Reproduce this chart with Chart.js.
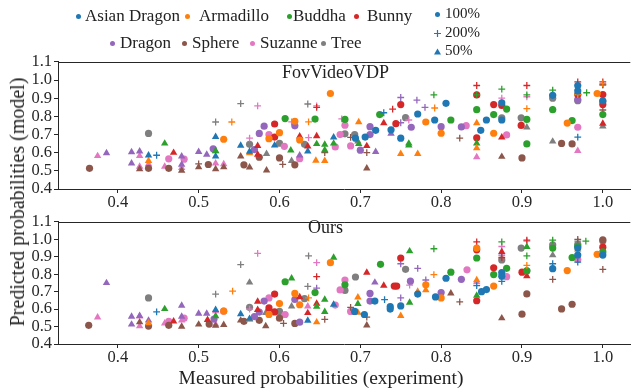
<!DOCTYPE html>
<html><head><meta charset="utf-8">
<script src="https://cdn.jsdelivr.net/npm/chart.js@4.4.1/dist/chart.umd.min.js"></script>
<style>
body{margin:0;background:#fff;}
#wrap{position:relative;width:635px;height:392px;overflow:hidden;font-family:'Liberation Serif','Times New Roman',serif;color:#222;background:#fff;}
.abs{position:absolute;white-space:nowrap;line-height:1;}
canvas{position:absolute;left:0;}
.dot{position:absolute;width:5px;height:5px;border-radius:50%;}
</style></head><body><div id="wrap">
<canvas id="c1" width="635" height="160" style="top:50px"></canvas>
<canvas id="c2" width="635" height="182" style="top:210px"></canvas>
</div>
<script>
// ---------- data ----------
const modelNames = ['Asian Dragon','Armadillo','Buddha','Bunny','Dragon','Sphere','Suzanne','Tree'];
const modelColors = ['#1f77b4','#ff7f0e','#2ca02c','#d62728','#9467bd','#8c564b','#e377c2','#7f7f7f'];
const markerNames = ['100%','200%','50%']; // c = 100%, p = 200%, t = 50%
const xTicks = [0.4,0.5,0.6,0.7,0.8,0.9,1.0];
const yTicks = [0.4,0.5,0.6,0.7,0.8,0.9,1.0,1.1];
const panelTitles = ['FovVideoVDP','Ours'];

// FovVideoVDP panel: [measured, predicted, marker]
const fovAsianDragon = [[0.438,0.586,'t'],[0.448,0.586,'p'],[0.521,0.687,'t'],[0.521,0.58,'t'],[0.552,0.639,'t'],[0.563,0.606,'t'],[0.594,0.641,'t'],[0.635,0.608,'t'],[0.667,0.685,'t'],[0.694,0.68,'c'],[0.706,0.686,'c'],[0.719,0.723,'c'],[0.729,0.82,'p'],[0.738,0.726,'c'],[0.75,0.68,'c'],[0.771,0.813,'c'],[0.792,0.78,'c'],[0.806,0.872,'c'],[0.849,0.723,'c'],[0.856,0.78,'c'],[0.875,0.875,'c'],[0.875,0.78,'c'],[0.938,0.916,'c'],[0.969,0.97,'c'],[0.969,0.94,'c'],[0.969,0.686,'p'],[1.0,0.886,'c']];
const fovArmadillo = [[0.438,0.555,'t'],[0.531,0.674,'c'],[0.541,0.769,'p'],[0.563,0.598,'t'],[0.587,0.677,'c'],[0.6,0.71,'c'],[0.619,0.773,'c'],[0.625,0.67,'c'],[0.636,0.77,'p'],[0.645,0.557,'t'],[0.656,0.555,'t'],[0.663,0.926,'c'],[0.698,0.769,'t'],[0.75,0.594,'t'],[0.771,0.594,'t'],[0.781,0.769,'c'],[0.792,0.846,'p'],[0.8,0.707,'c'],[0.844,0.763,'t'],[0.844,0.625,'t'],[0.865,0.707,'c'],[0.906,0.843,'p'],[0.956,0.763,'c'],[0.969,0.92,'p'],[0.993,0.926,'c'],[1.0,0.98,'p']];
const fovBuddha = [[0.458,0.651,'t'],[0.521,0.61,'t'],[0.607,0.788,'c'],[0.614,0.613,'t'],[0.644,0.785,'c'],[0.646,0.648,'t'],[0.656,0.645,'t'],[0.656,0.614,'t'],[0.667,0.651,'t'],[0.681,0.783,'c'],[0.698,0.648,'t'],[0.724,0.81,'c'],[0.76,0.651,'t'],[0.76,0.64,'t'],[0.791,0.918,'p'],[0.812,0.78,'c'],[0.844,0.918,'p'],[0.844,0.837,'c'],[0.844,0.652,'t'],[0.865,0.81,'c'],[0.875,0.95,'p'],[0.881,0.84,'c'],[0.906,0.918,'p'],[0.906,0.783,'c'],[0.906,0.648,'c'],[0.938,0.945,'p'],[0.938,0.837,'c'],[0.962,0.777,'c'],[0.969,0.92,'p'],[0.98,0.93,'p'],[1.0,0.81,'c']];
const fovBunny = [[0.469,0.6,'t'],[0.573,0.59,'t'],[0.573,0.638,'t'],[0.594,0.758,'c'],[0.594,0.686,'c'],[0.625,0.69,'t'],[0.635,0.635,'t'],[0.646,0.85,'p'],[0.646,0.692,'t'],[0.708,0.637,'t'],[0.729,0.763,'t'],[0.74,0.84,'p'],[0.744,0.76,'c'],[0.75,0.865,'c'],[0.844,0.97,'p'],[0.844,0.918,'c'],[0.844,0.682,'c'],[0.865,0.865,'c'],[0.875,0.86,'c'],[0.875,0.685,'t'],[0.906,0.97,'p'],[0.899,0.75,'c'],[0.938,0.837,'p'],[0.969,0.99,'p'],[0.969,0.92,'c'],[1.0,0.99,'p'],[1.0,0.92,'c'],[1.0,0.865,'c'],[1.0,0.76,'t']];
const fovDragon = [[0.386,0.598,'t'],[0.417,0.603,'t'],[0.417,0.541,'t'],[0.427,0.608,'t'],[0.479,0.58,'t'],[0.479,0.535,'t'],[0.5,0.605,'t'],[0.51,0.59,'t'],[0.518,0.621,'c'],[0.569,0.617,'c'],[0.575,0.706,'c'],[0.581,0.746,'c'],[0.619,0.748,'c'],[0.625,0.585,'t'],[0.7,0.614,'c'],[0.712,0.743,'c'],[0.712,0.70,'c'],[0.719,0.605,'t'],[0.738,0.705,'t'],[0.75,0.904,'p'],[0.75,0.765,'p'],[0.763,0.74,'c'],[0.77,0.89,'p'],[0.78,0.85,'p'],[0.8,0.743,'c'],[0.825,0.742,'c'],[0.969,0.893,'c']];
const fovSphere = [[0.365,0.514,'c'],[0.427,0.51,'t'],[0.438,0.514,'c'],[0.463,0.514,'c'],[0.479,0.502,'t'],[0.5,0.52,'t'],[0.5,0.538,'p'],[0.512,0.535,'c'],[0.521,0.51,'t'],[0.531,0.52,'t'],[0.552,0.58,'t'],[0.556,0.533,'c'],[0.563,0.519,'t'],[0.575,0.575,'c'],[0.584,0.503,'t'],[0.6,0.571,'c'],[0.604,0.536,'p'],[0.619,0.533,'c'],[0.656,0.6,'p'],[0.688,0.684,'p'],[0.708,0.6,'p'],[0.708,0.514,'t'],[0.823,0.68,'p'],[0.875,0.578,'t'],[0.9,0.571,'c'],[0.949,0.651,'c'],[0.962,0.648,'c'],[1.0,0.835,'p'],[1.0,0.975,'p']];
const fovSuzanne = [[0.375,0.582,'t'],[0.427,0.582,'t'],[0.427,0.523,'t'],[0.438,0.537,'t'],[0.458,0.523,'t'],[0.463,0.566,'c'],[0.479,0.516,'t'],[0.482,0.564,'c'],[0.521,0.608,'t'],[0.521,0.541,'t'],[0.531,0.537,'t'],[0.563,0.68,'p'],[0.573,0.858,'p'],[0.587,0.70,'c'],[0.606,0.635,'c'],[0.615,0.77,'p'],[0.625,0.567,'c'],[0.636,0.683,'p'],[0.646,0.858,'p'],[0.669,0.632,'c'],[0.675,0.70,'c'],[0.677,0.786,'p'],[0.681,0.751,'c'],[0.688,0.637,'c'],[0.76,0.78,'p'],[0.831,0.749,'c'],[0.844,0.576,'t'],[0.875,0.90,'p'],[0.881,0.698,'c'],[0.906,0.908,'p'],[0.969,0.74,'c'],[0.969,0.61,'t']];
const fovTree = [[0.438,0.706,'c'],[0.521,0.769,'p'],[0.552,0.87,'p'],[0.563,0.646,'c'],[0.584,0.594,'t'],[0.6,0.652,'c'],[0.615,0.555,'t'],[0.631,0.646,'c'],[0.635,0.868,'p'],[0.681,0.704,'c'],[0.693,0.70,'c'],[0.697,0.662,'t'],[0.756,0.793,'c'],[0.875,0.792,'c'],[0.899,0.792,'c'],[0.906,0.74,'t'],[0.938,0.90,'c'],[0.938,0.92,'p'],[0.938,0.662,'t'],[0.969,0.886,'c'],[1.0,0.882,'c'],[1.0,0.745,'t'],[1.0,0.972,'p']];

// Ours panel
const oursAsianDragon = [[0.448,0.584,'p'],[0.521,0.596,'t'],[0.552,0.571,'t'],[0.563,0.545,'t'],[0.635,0.534,'t'],[0.667,0.626,'t'],[0.693,0.587,'c'],[0.705,0.569,'c'],[0.718,0.646,'c'],[0.73,0.654,'p'],[0.737,0.614,'c'],[0.737,0.60,'c'],[0.75,0.618,'c'],[0.771,0.686,'c'],[0.793,0.67,'c'],[0.806,0.777,'c'],[0.844,0.735,'p'],[0.85,0.70,'c'],[0.856,0.712,'c'],[0.875,0.81,'c'],[0.875,0.789,'c'],[0.875,0.759,'p'],[0.938,0.86,'p'],[0.938,0.832,'c'],[0.969,0.95,'c'],[0.969,0.91,'c'],[0.969,0.869,'p'],[1.0,0.91,'c']];
const oursArmadillo = [[0.438,0.52,'t'],[0.531,0.588,'c'],[0.542,0.703,'p'],[0.563,0.54,'t'],[0.587,0.569,'c'],[0.6,0.632,'c'],[0.619,0.69,'c'],[0.625,0.625,'c'],[0.636,0.664,'p'],[0.646,0.525,'t'],[0.663,0.866,'c'],[0.697,0.668,'t'],[0.697,0.58,'t'],[0.75,0.561,'t'],[0.771,0.70,'t'],[0.781,0.709,'t'],[0.781,0.739,'c'],[0.791,0.798,'p'],[0.8,0.664,'c'],[0.844,0.95,'c'],[0.844,0.766,'t'],[0.865,0.732,'c'],[0.906,0.851,'p'],[0.956,0.821,'c'],[0.969,0.932,'p'],[0.993,0.914,'c']];
const oursBuddha = [[0.458,0.601,'t'],[0.521,0.56,'t'],[0.607,0.757,'c'],[0.615,0.777,'t'],[0.644,0.695,'c'],[0.646,0.614,'t'],[0.656,0.655,'t'],[0.656,0.585,'t'],[0.667,0.896,'t'],[0.681,0.739,'c'],[0.697,0.63,'t'],[0.725,0.857,'c'],[0.761,0.932,'t'],[0.761,0.637,'t'],[0.791,0.946,'p'],[0.812,0.812,'c'],[0.844,0.893,'c'],[0.844,0.678,'t'],[0.865,0.798,'c'],[0.875,0.985,'p'],[0.881,0.834,'c'],[0.906,0.957,'t'],[0.906,0.905,'p'],[0.906,0.82,'c'],[0.938,0.995,'p'],[0.938,0.95,'c'],[0.962,0.896,'c'],[0.969,0.96,'c'],[0.979,0.99,'p'],[1.0,0.928,'c']];
const oursBunny = [[0.469,0.53,'t'],[0.511,0.539,'t'],[0.573,0.643,'t'],[0.573,0.596,'t'],[0.587,0.607,'c'],[0.594,0.686,'c'],[0.594,0.584,'c'],[0.625,0.669,'t'],[0.635,0.578,'t'],[0.646,0.786,'p'],[0.646,0.632,'t'],[0.708,0.81,'t'],[0.729,0.735,'t'],[0.742,0.732,'c'],[0.745,0.732,'c'],[0.75,0.893,'c'],[0.844,0.985,'p'],[0.844,0.94,'c'],[0.844,0.648,'c'],[0.865,0.837,'c'],[0.875,0.928,'t'],[0.875,0.896,'p'],[0.9,0.812,'c'],[0.906,0.995,'p'],[0.906,0.789,'t'],[1.0,0.955,'c']];
const oursDragon = [[0.386,0.75,'t'],[0.417,0.557,'t'],[0.417,0.512,'t'],[0.427,0.562,'t'],[0.438,0.535,'t'],[0.479,0.62,'t'],[0.479,0.557,'t'],[0.5,0.575,'t'],[0.51,0.575,'t'],[0.519,0.543,'c'],[0.569,0.557,'c'],[0.575,0.583,'c'],[0.581,0.646,'c'],[0.619,0.655,'c'],[0.625,0.525,'c'],[0.646,0.72,'p'],[0.712,0.69,'c'],[0.712,0.646,'c'],[0.718,0.753,'t'],[0.75,0.86,'p'],[0.75,0.664,'p'],[0.762,0.76,'c'],[0.771,0.834,'p'],[0.781,0.767,'p'],[0.8,0.695,'c'],[0.825,0.771,'c'],[0.875,0.91,'p']];
const oursSphere = [[0.364,0.507,'c'],[0.427,0.525,'t'],[0.438,0.503,'c'],[0.463,0.507,'c'],[0.479,0.50,'t'],[0.5,0.512,'t'],[0.513,0.514,'c'],[0.521,0.505,'t'],[0.531,0.51,'t'],[0.552,0.535,'t'],[0.556,0.53,'c'],[0.575,0.536,'c'],[0.583,0.503,'t'],[0.6,0.548,'c'],[0.605,0.518,'p'],[0.619,0.518,'c'],[0.656,0.541,'p'],[0.688,0.61,'p'],[0.708,0.554,'p'],[0.708,0.507,'t'],[0.812,0.69,'t'],[0.823,0.642,'p'],[0.875,0.548,'t'],[0.9,0.571,'c'],[0.906,0.687,'c'],[0.938,0.771,'p'],[0.949,0.601,'c'],[0.962,0.628,'c'],[0.969,1.0,'p'],[1.0,0.997,'c'],[1.0,0.828,'p']];
const oursSuzanne = [[0.375,0.553,'t'],[0.427,0.558,'t'],[0.427,0.502,'t'],[0.458,0.518,'t'],[0.463,0.53,'c'],[0.479,0.535,'t'],[0.482,0.548,'c'],[0.521,0.588,'t'],[0.521,0.512,'t'],[0.531,0.588,'c'],[0.563,0.60,'p'],[0.573,0.92,'p'],[0.587,0.664,'c'],[0.607,0.569,'c'],[0.635,0.616,'t'],[0.646,0.866,'p'],[0.669,0.623,'c'],[0.675,0.71,'c'],[0.681,0.767,'c'],[0.688,0.587,'c'],[0.761,0.737,'p'],[0.832,0.825,'c'],[0.844,0.755,'t'],[0.875,0.959,'p'],[0.881,0.786,'c'],[0.906,0.99,'p'],[0.969,0.885,'c']];
const oursTree = [[0.438,0.664,'c'],[0.521,0.686,'p'],[0.552,0.855,'p'],[0.563,0.753,'t'],[0.563,0.61,'c'],[0.583,0.578,'t'],[0.6,0.587,'c'],[0.615,0.616,'t'],[0.631,0.66,'c'],[0.635,0.73,'p'],[0.636,0.905,'p'],[0.681,0.707,'c'],[0.694,0.784,'c'],[0.756,0.828,'c'],[0.875,0.882,'c'],[0.899,0.95,'c'],[0.906,0.82,'c'],[0.938,0.968,'c'],[0.938,0.909,'t'],[0.969,0.971,'c'],[0.969,0.99,'p'],[1.0,0.99,'c']];

const fovSeries = [fovAsianDragon,fovArmadillo,fovBuddha,fovBunny,fovDragon,fovSphere,fovSuzanne,fovTree];
const oursSeries = [oursAsianDragon,oursArmadillo,oursBuddha,oursBunny,oursDragon,oursSphere,oursSuzanne,oursTree];

// ---------- styling ----------
const FONT = "'Liberation Serif','Times New Roman',serif";
const INK = '#262626';
const styleOf = {c:'circle', p:'cross', t:'triangle'};
const radiusOf = {c:3.6, p:3.4, t:4.3};
const bwOf = {c:0, p:1.3, t:0};

function datasetsFor(series){
  return series.map((arr,i)=>({
    label: modelNames[i],
    data: arr.map(([x,y,m])=>({x,y,m})),
    backgroundColor: modelColors[i],
    borderColor: modelColors[i],
    pointStyle: c => styleOf[c.raw ? c.raw.m : 'c'],
    pointRadius: c => radiusOf[c.raw ? c.raw.m : 'c'],
    pointHoverRadius: c => radiusOf[c.raw ? c.raw.m : 'c'],
    pointBorderWidth: c => bwOf[c.raw ? c.raw.m : 'c'],
    showLine: false
  }));
}

const topLine = {
  id:'topLine',
  afterDraw(chart){
    const {ctx, chartArea:a} = chart;
    ctx.save(); ctx.strokeStyle = INK; ctx.lineWidth = 1;
    ctx.beginPath(); ctx.moveTo(a.left, Math.round(a.top)+0.5); ctx.lineTo(a.right, Math.round(a.top)+0.5); ctx.stroke();
    ctx.restore();
  }
};

function makeChart(id, series, padTop, xAxisH){
  return new Chart(document.getElementById(id), {
    type:'scatter',
    data:{datasets: datasetsFor(series)},
    options:{
      responsive:false, animation:false, events:[],
      layout:{padding:{top:padTop, left:0, right:0, bottom:0}},
      plugins:{legend:{display:false}, tooltip:{enabled:false}},
      scales:{
        x:{type:'linear', min:0.326, max:1.034,
           afterBuildTicks: ax => { ax.ticks = xTicks.map(v=>({value:v})); },
           afterFit: ax => { ax.height = xAxisH; },
           ticks:{callback:v=>v.toFixed(1), font:{family:FONT,size:16.5}, color:INK, padding:0, maxRotation:0, autoSkip:false},
           grid:{display:true, drawOnChartArea:false, drawTicks:true, tickLength:4, color:INK},
           border:{display:true, color:INK, width:1}},
        y:{type:'linear', min:0.4, max:1.1,
           afterBuildTicks: ax => { ax.ticks = yTicks.map(v=>({value:v})); },
           afterFit: ax => { ax.width = 58; },
           ticks:{callback:v=>v.toFixed(1), font:{family:FONT,size:16.5}, color:INK, padding:2, autoSkip:false},
           grid:{display:true, drawOnChartArea:false, drawTicks:true, tickLength:4, color:INK},
           border:{display:true, color:INK, width:1}}
      }
    },
    plugins:[topLine]
  });
}

makeChart('c1', fovSeries, 8, 21);
makeChart('c2', oursSeries, 4, 48);

// ---------- text: legend, titles ----------
const wrap = document.getElementById('wrap');
function addText(txt, left, top, size, extra){
  const d = document.createElement('div');
  d.className = 'abs'; d.textContent = txt;
  d.style.left = left+'px'; d.style.top = top+'px'; d.style.fontSize = size+'px';
  if (extra) Object.assign(d.style, extra);
  wrap.appendChild(d); return d;
}
const legendPos = [[78,85,16],[187,199,16],[289,293,16],[356,367,16],[112,120,43],[184,192,43],[252,260,43],[323,331,43]];
modelNames.forEach((n,i)=>{
  const [dx,tx,cy] = legendPos[i];
  const dot = document.createElement('div'); dot.className='dot';
  dot.style.left=(dx-2.5)+'px'; dot.style.top=(cy-2.5)+'px'; dot.style.background=modelColors[i];
  wrap.appendChild(dot);
  addText(n, tx, cy-9, 17);
});
// marker legend
const mkY = [14,33,51];
markerNames.forEach((n,i)=>{
  const cy = mkY[i];
  const el = document.createElement('div'); el.style.position='absolute';
  if (i===0){ Object.assign(el.style,{left:'435px',top:(cy-2.5)+'px',width:'5px',height:'5px',borderRadius:'50%',background:modelColors[0]}); }
  else if (i===1){ el.innerHTML='<svg width="7" height="7"><path d="M3.5 0V7M0 3.5H7" stroke="'+modelColors[0]+'" stroke-width="1.2"/></svg>'; Object.assign(el.style,{left:'434px',top:(cy-3.5)+'px',lineHeight:0}); }
  else { el.innerHTML='<svg width="7" height="7"><path d="M3.5 0.5L7 6.5H0Z" fill="'+modelColors[0]+'"/></svg>'; Object.assign(el.style,{left:'434px',top:(cy-3.5)+'px',lineHeight:0}); }
  wrap.appendChild(el);
  addText(n, 445, cy-8, 15);
});
addText(panelTitles[0], 282, 63, 18);
addText(panelTitles[1], 308, 218, 18);
addText('Measured probabilities (experiment)', 321, 368, 19.5, {transform:'translateX(-50%)'});
addText('Predicted probabilities (model)', 0, 0, 20, {left:'17px', top:'202px', transform:'translate(-50%,-50%) rotate(-90deg)'});
</script></body></html>
